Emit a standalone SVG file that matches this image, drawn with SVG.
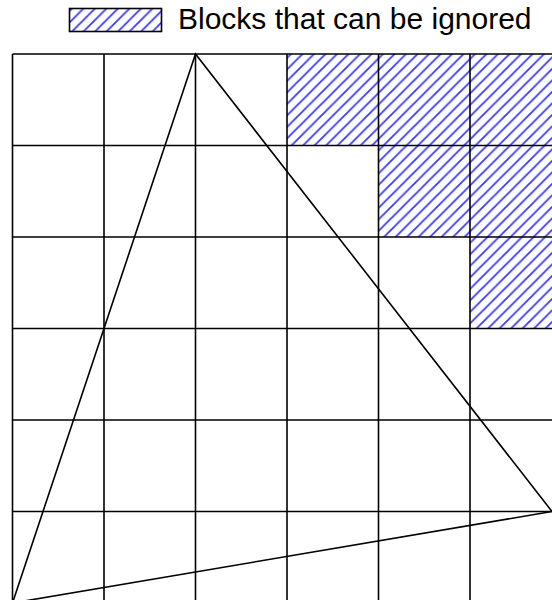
<svg xmlns="http://www.w3.org/2000/svg" width="552" height="600" viewBox="0 0 552 600">
<defs>
<pattern id="hatch" patternUnits="userSpaceOnUse" width="11.5" height="11.5">
<path d="M-1,1 L1,-1 M0,11.5 L11.5,0 M10.5,12.5 L12.5,10.5" stroke="#3a3aff" stroke-width="1.8"/>
</pattern>
<style>
.grid{stroke:#000;stroke-width:1.6;fill:none}
.tri{stroke:#000;stroke-width:1.6;fill:none}
.ign{fill:url(#hatch);stroke:none}
.lbl{font-family:"Liberation Sans",Arial,sans-serif;font-size:30px;fill:#000}
</style>
</defs>
<rect width="552" height="600" fill="#fff"/>
<g id="legend">
<rect x="69.5" y="8.5" width="92" height="23" fill="url(#hatch)" stroke="#000" stroke-width="1.6"/>
<text class="lbl" x="178" y="28.5">Blocks that can be ignored</text>
</g>
<g id="ignored-blocks">
<rect class="ign" x="287" y="54" width="91.5" height="91.5"/>
<rect class="ign" x="378.5" y="54" width="91.5" height="91.5"/>
<rect class="ign" x="470" y="54" width="91.5" height="91.5"/>
<rect class="ign" x="378.5" y="145.5" width="91.5" height="91.5"/>
<rect class="ign" x="470" y="145.5" width="91.5" height="91.5"/>
<rect class="ign" x="470" y="237" width="91.5" height="91.5"/>
</g>
<g id="grid" class="grid">
<path d="M12.5,54V610 M104,54V610 M195.5,54V610 M287,54V610 M378.5,54V610 M470,54V610"/>
<path d="M12.5,54H560 M12.5,145.5H560 M12.5,237H560 M12.5,328.5H560 M12.5,420H560 M12.5,511.5H560"/>
</g>
<g id="triangle">
<path class="tri" d="M195.5,54 L12.5,603 L552,511.5 Z"/>
</g>
</svg>
